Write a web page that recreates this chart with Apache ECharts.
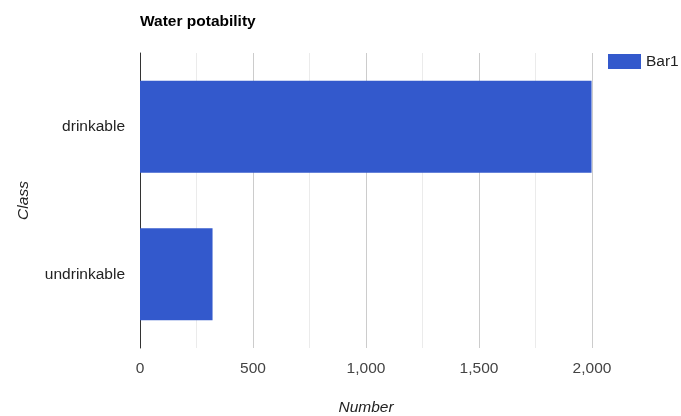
<!DOCTYPE html>
<html>
<head>
<meta charset="utf-8">
<script src="https://cdn.jsdelivr.net/npm/echarts@6/dist/echarts.min.js"></script>
<style>
  html, body { margin: 0; padding: 0; background: #fff; }
  #chart { width: 681px; height: 416px; }
</style>
</head>
<body>
<div id="chart"></div>
<script>
// Water potability counts per class
const categories = ['drinkable', 'undrinkable'];
const bar1Values = [1998, 321];
const seriesName = 'Bar1';
const xTicks = [0, 500, 1000, 1500, 2000];

const chart = echarts.init(document.getElementById('chart'));
const font = 'Arial, "Liberation Sans", sans-serif';
const fs = 15.5;

chart.setOption({
  animation: false,
  textStyle: { fontFamily: font },
  title: {
    text: 'Water potability',
    left: 135,
    top: 9,
    textStyle: { fontSize: fs, fontWeight: 'bold', color: '#000', fontFamily: font }
  },
  legend: {
    data: [seriesName],
    left: 608,
    top: 53,
    padding: 0,
    icon: 'rect',
    itemWidth: 33,
    itemHeight: 15,
    itemGap: 6,
    textStyle: { fontSize: fs, color: '#222', fontFamily: font, lineHeight: 17 }
  },
  grid: { left: 140, right: 89, top: 53, bottom: 68, containLabel: false, outerBoundsMode: 'none' },
  xAxis: {
    type: 'value',
    min: 0,
    max: 2000,
    interval: 250,
    name: 'Number',
    nameLocation: 'middle',
    nameGap: 52,
    nameTextStyle: { fontStyle: 'italic', fontSize: fs, color: '#222', fontFamily: font },
    axisLine: { show: false },
    axisTick: { show: false },
    axisLabel: {
      margin: 13,
      fontSize: fs,
      color: '#444',
      fontFamily: font,
      formatter: v => xTicks.includes(v) ? v.toLocaleString('en-US') : ''
    },
    splitLine: { lineStyle: { color: ['#cccccc', '#ebebeb'], width: 1 } }
  },
  yAxis: {
    type: 'category',
    data: categories,
    inverse: true,
    name: 'Class',
    nameLocation: 'middle',
    nameGap: 108,
    nameRotate: 90,
    nameTextStyle: { fontStyle: 'italic', fontSize: fs, color: '#222', fontFamily: font },
    axisLine: { show: true, lineStyle: { color: '#333', width: 1 } },
    axisTick: { show: false },
    axisLabel: { margin: 15, fontSize: fs, color: '#222', fontFamily: font },
    splitLine: { show: false }
  },
  series: [{
    name: seriesName,
    type: 'bar',
    data: bar1Values,
    barWidth: '62.4%',
    itemStyle: { color: '#3359cc' }
  }]
});
</script>
</body>
</html>
